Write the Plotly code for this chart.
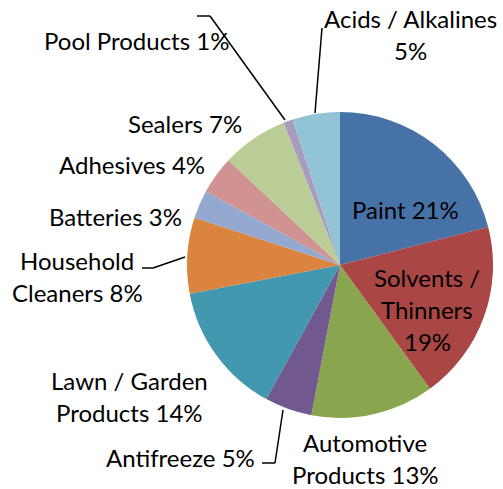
import plotly.graph_objects as go

categories = ["Paint", "Solvents / Thinners", "Automotive Products", "Antifreeze",
              "Lawn / Garden Products", "Household Cleaners", "Batteries", "Adhesives",
              "Sealers", "Pool Products", "Acids / Alkalines"]
values = [21, 19, 13, 5, 14, 8, 3, 4, 7, 1, 5]
colors = ["#4672A8", "#AA4644", "#89A54E", "#71588F", "#4198AF", "#DB843D",
          "#93A9D0", "#D09392", "#BACD96", "#A99BBD", "#92C4D6"]

# label line layout (text templates)
label_lines = [
    ["Paint {v}%"],
    ["Solvents /", "Thinners", "{v}%"],
    ["Automotive", "Products {v}%"],
    ["Antifreeze {v}%"],
    ["Lawn / Garden", "Products {v}%"],
    ["Household", "Cleaners {v}%"],
    ["Batteries {v}%"],
    ["Adhesives {v}%"],
    ["Sealers {v}%"],
    ["Pool Products {v}%"],
    ["Acids / Alkalines", "{v}%"],
]
# label centres in pixels (x, y of first line)
label_pos = [(405, 210), (427, 277), (365, 442), (180, 457), (129, 380), (77, 260),
             (115, 216), (132, 164), (185, 123), (136, 40), (410, 19)]
LINE_H = 32

# leader lines (pixel polylines)
leaders = [
    [(197, 16), (210, 16), (285, 120)],
    [(322, 28), (315, 113)],
    [(142, 268), (153, 268), (185, 257)],
    [(262, 463), (275, 463), (283, 410)],
]

W, H = 503, 489
FONT = "Lato"
FSIZE = 24


def px(x):
    return x / W


def py(y):
    return 1 - y / H


cx, cy, r = 340, 265, 153

fig = go.Figure(go.Pie(
    labels=categories, values=values, sort=False, direction="clockwise", rotation=0,
    marker=dict(colors=colors, line=dict(width=0)), textinfo="none", hoverinfo="label+percent",
    showlegend=False,
    domain=dict(x=[px(cx - r), px(cx + r)], y=[py(cy + r), py(cy - r)]),
))

annotations = []
for lines, (lx, ly), v in zip(label_lines, label_pos, values):
    for i, t in enumerate(lines):
        annotations.append(dict(
            text=t.format(v=v), x=px(lx), y=py(ly + i * LINE_H), xref="paper", yref="paper",
            xanchor="center", yanchor="middle", showarrow=False,
            font=dict(family=FONT, size=FSIZE, color="#000000")))

shapes = []
for pts in leaders:
    for (x0, y0), (x1, y1) in zip(pts[:-1], pts[1:]):
        shapes.append(dict(type="line", xref="paper", yref="paper",
                           x0=px(x0), y0=py(y0), x1=px(x1), y1=py(y1),
                           line=dict(color="#000000", width=1.5)))

fig.update_layout(width=W, height=H, margin=dict(l=0, r=0, t=0, b=0),
                  paper_bgcolor="white", plot_bgcolor="white",
                  annotations=annotations, shapes=shapes)
fig.write_html("out.html", config={"displayModeBar": False},
               post_script="document.body.style.margin='0';")
